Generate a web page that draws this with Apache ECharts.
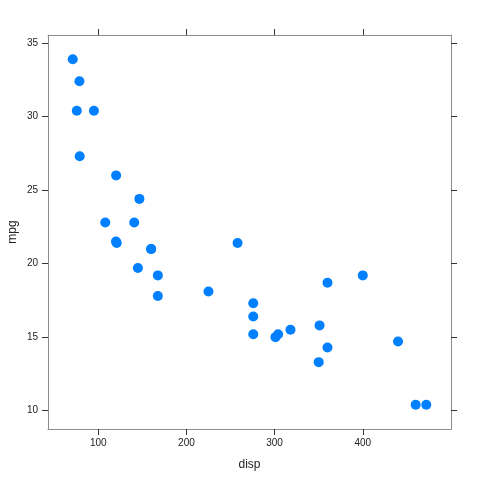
<!DOCTYPE html>
<html><head><meta charset="utf-8">
<script src="https://cdn.jsdelivr.net/npm/echarts@6/dist/echarts.min.js"></script>
<style>html,body{margin:0;padding:0;background:#fff}#c{width:480px;height:480px}</style>
</head><body><div id="c"></div>
<script>
const disp = [160,160,108,258,360,225,360,146.7,140.8,167.6,167.6,275.8,275.8,275.8,472,460,440,78.7,75.7,71.1,120.1,318,304,350,400,79,120.3,95.1,351,145,301,121];
const mpg = [21.0,21.0,22.8,21.4,18.7,18.1,14.3,24.4,22.8,19.2,17.8,16.4,17.3,15.2,10.4,10.4,14.7,32.4,30.4,33.9,21.5,15.5,15.2,13.3,19.2,27.3,26.0,30.4,15.8,19.7,15.0,21.4];
const xTicks = [100,200,300,400];
const yTicks = [10,15,20,25,30,35];
const xMin = 43.04, xMax = 500.06, yMin = 8.755, yMax = 35.545;

const font = 'Liberation Sans, Arial, sans-serif';
const lineC = '#8c8c8c';
function axisCommon(ticks, showLabel, margin){
  return {
    axisLine:{show:true,onZero:false,lineStyle:{color:lineC,width:1}},
    axisTick:{show:true,inside:false,length:6,customValues:ticks,lineStyle:{color:'#333',width:1}},
    axisLabel:{show:showLabel,customValues:ticks,color:'#222',fontSize:10,fontFamily:font,margin:margin},
    splitLine:{show:false}
  };
}
const chart = echarts.init(document.getElementById('c'));
chart.setOption({
  animation:false,
  grid:{left:48,top:35,right:29,bottom:51,containLabel:false,outerBoundsMode:'none'},
  xAxis:[
    Object.assign({type:'value',position:'bottom',min:xMin,max:xMax,name:'disp',nameLocation:'middle',nameGap:30,nameMoveOverlap:false,
      nameTextStyle:{color:'#222',fontSize:12,fontFamily:font}},axisCommon(xTicks,true,9)),
    Object.assign({type:'value',position:'top',min:xMin,max:xMax},axisCommon(xTicks,false,9))
  ],
  yAxis:[
    Object.assign({type:'value',position:'left',min:yMin,max:yMax,name:'mpg',nameLocation:'middle',nameGap:29,nameRotate:90,nameMoveOverlap:false,
      nameTextStyle:{color:'#222',fontSize:12,fontFamily:font}},axisCommon(yTicks,true,10)),
    Object.assign({type:'value',position:'right',min:yMin,max:yMax},axisCommon(yTicks,false,10))
  ],
  series:[{type:'scatter',symbol:'circle',symbolSize:10,
    itemStyle:{color:'#0080ff',opacity:1},
    data:disp.map((d,i)=>[d,mpg[i]])}]
});
</script></body></html>
